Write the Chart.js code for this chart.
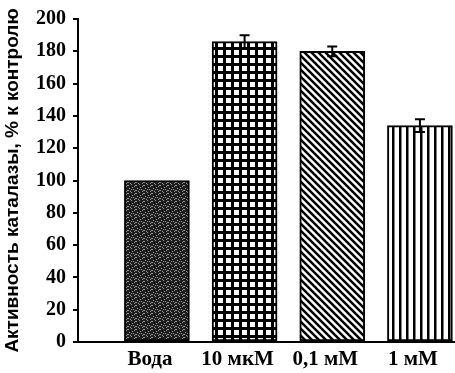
<!DOCTYPE html>
<html>
<head>
<meta charset="utf-8">
<script src="https://cdn.jsdelivr.net/npm/chart.js@4/dist/chart.umd.min.js"></script>
<style>
  html, body { margin: 0; padding: 0; background: #fff; }
  canvas { display: block; }
</style>
</head>
<body>
<canvas id="c" width="455" height="373"></canvas>
<script>
// ---- data ----
const categories = ["Вода", "10 мкМ", "0,1 мМ", "1 мМ"];
const activity   = [100, 186, 180, 134];
const errors     = [0, 4, 3, 4];
const yTicks     = [0, 20, 40, 60, 80, 100, 120, 140, 160, 180, 200];
const yTitle     = "Активность каталазы, % к контролю";

// ---- fill patterns ----
function tile(size, draw) {
  const t = document.createElement('canvas');
  t.width = size; t.height = size;
  const g = t.getContext('2d');
  draw(g, size);
  return document.getElementById('c').getContext('2d').createPattern(t, 'repeat');
}
const stipple = tile(8, (g, s) => {
  g.fillStyle = '#1c1c1c'; g.fillRect(0, 0, s, s);
  g.fillStyle = '#9a9a9a';
  [[0,1],[3,0],[6,2],[1,4],[5,5],[2,7],[7,6],[4,3],[6,7],[0,6],[3,5],[7,1]].forEach(p => g.fillRect(p[0], p[1], 1, 1));
});
const grid = tile(8, (g, s) => {
  g.fillStyle = '#000'; g.fillRect(0, 0, s, s);
  g.fillStyle = '#fff'; g.fillRect(2, 2, 5, 5);
});
const diag = tile(7, (g, s) => {
  g.fillStyle = '#fff'; g.fillRect(0, 0, s, s);
  g.strokeStyle = '#000'; g.lineWidth = 2.5;
  [-s, 0, s].forEach(x0 => { g.beginPath(); g.moveTo(x0 - 1, -1); g.lineTo(x0 + s + 1, s + 1); g.stroke(); });
});
const vert = tile(7, (g, s) => {
  g.fillStyle = '#fff'; g.fillRect(0, 0, s, s);
  g.fillStyle = '#000'; g.fillRect(0, 0, 2.5, s);
});

// ---- error bars ----
const errorBars = {
  id: 'errorBars',
  afterDatasetsDraw(chart) {
    const ctx = chart.ctx, y = chart.scales.y;
    const meta = chart.getDatasetMeta(0);
    ctx.save();
    ctx.strokeStyle = '#000'; ctx.lineWidth = 2;
    meta.data.forEach((bar, i) => {
      const e = errors[i];
      if (!e) return;
      const top = y.getPixelForValue(activity[i] + e);
      const bot = y.getPixelForValue(activity[i] - e);
      const x = bar.x, w = 5;
      ctx.beginPath();
      ctx.moveTo(x, top); ctx.lineTo(x, bot);
      ctx.moveTo(x - w, top); ctx.lineTo(x + w, top);
      ctx.moveTo(x - w, bot); ctx.lineTo(x + w, bot);
      ctx.stroke();
    });
    ctx.restore();
  }
};

new Chart(document.getElementById('c'), {
  type: 'bar',
  data: {
    datasets: [{
      data: activity.map((v, i) => ({ x: i + 1, y: v })),
      backgroundColor: [stipple, grid, diag, vert],
      borderColor: '#000',
      borderWidth: 2,
      borderSkipped: false,
      barThickness: 65
    }]
  },
  options: {
    responsive: false,
    animation: false,
    layout: { padding: { top: 12, right: 0, left: 0, bottom: 0 } },
    plugins: { legend: { display: false }, tooltip: { enabled: false } },
    scales: {
      x: {
        type: 'linear',
        offset: false,
        bounds: 'ticks',
        min: 0.1, max: 4.4,
        afterBuildTicks: s => { s.ticks = categories.map((c, i) => ({ value: i + 1 })); },
        afterFit: s => { s.height = 31; },
        grid: { display: false, drawTicks: false, offset: false },
        border: { display: true, color: '#000', width: 2 },
        ticks: {
          callback: v => categories[v - 1],
          color: '#000',
          padding: 5,
          labelOffset: -7,
          maxRotation: 0,
          autoSkip: false,
          font: { family: 'Liberation Serif', size: 21, weight: 'bold' }
        }
      },
      y: {
        min: 0, max: 200,
        afterBuildTicks: s => { s.ticks = yTicks.map(v => ({ value: v })); },
        afterFit: s => { s.width = 78; },
        grid: { drawOnChartArea: false, drawTicks: true, tickLength: 5, color: '#000', lineWidth: 2 },
        border: { display: true, color: '#000', width: 2 },
        ticks: {
          color: '#000',
          padding: 7,
          font: { family: 'Liberation Serif', size: 20, weight: 'bold' }
        },
        title: {
          display: true,
          text: yTitle,
          color: '#000',
          padding: { top: 1, bottom: 0 },
          font: { family: 'Liberation Sans', size: 19, weight: 'bold' }
        }
      }
    }
  },
  plugins: [errorBars]
});
</script>
</body>
</html>
